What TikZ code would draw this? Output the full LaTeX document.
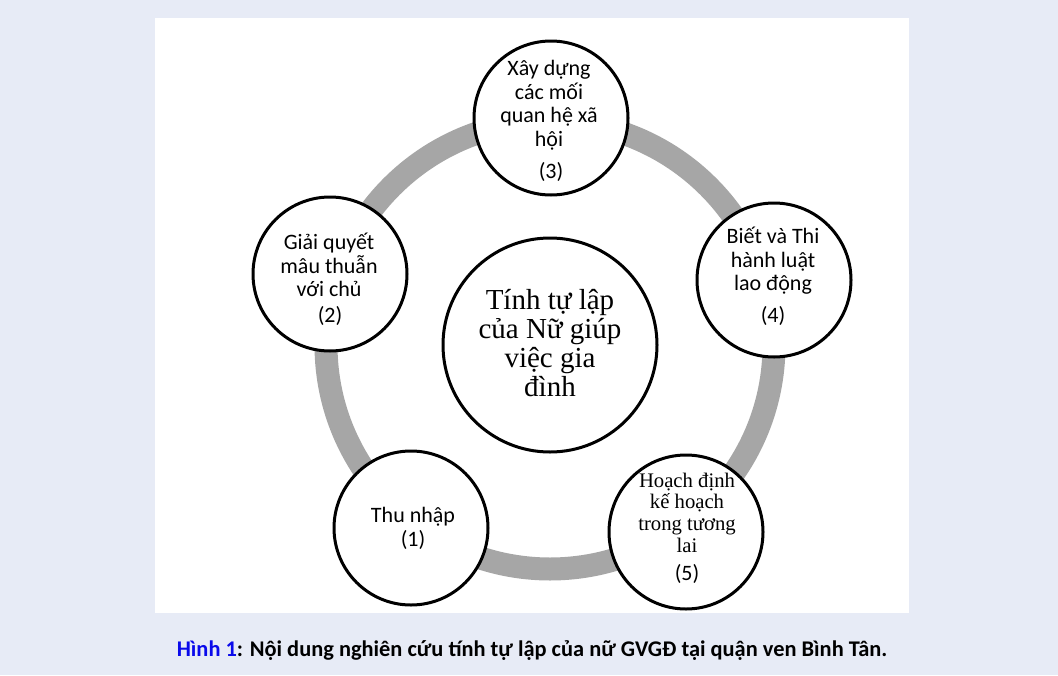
\documentclass[tikz,border=0pt]{standalone}
\usepackage{fontspec}
\setmainfont{Carlito}
\newfontfamily\tnr{Liberation Serif}
\definecolor{bg}{RGB}{231,235,246}
\definecolor{ringgray}{RGB}{166,166,166}
\definecolor{capblue}{RGB}{10,10,235}
\begin{document}
\begin{tikzpicture}[x=1pt,y=-1pt,
  bub/.style={circle,draw=black,line width=3pt,fill=white,minimum size=154pt,inner sep=0pt},
  txt/.style={align=center,inner sep=0pt,font=\fontsize{22}{23.5}\selectfont},
  serif/.style={align=center,inner sep=0pt,font=\tnr\fontsize{20.7}{21.7}\selectfont},
  bigserif/.style={align=center,inner sep=0pt,font=\tnr\fontsize{29}{29}\selectfont},
]
\fill[bg] (0,0) rectangle (1058,675);
\fill[white] (155,18) rectangle (909,613);
\useasboundingbox (0,0) rectangle (1058,675);
\draw[ringgray, line width=23pt] (550,345) circle[radius=224];

\node[bub, minimum size=214pt] (c0) at (550,345) {};
\node[bigserif] (t0) at (550,343.5) {Tính tự lập\\của Nữ giúp\\việc gia\\đình};

\node[bub] (c3) at (551,118) {};
\node[txt] (t3) at (549,105) {Xây dựng\\các mối\\quan hệ xã\\hội};
\node[txt] (n3) at (551,172) {(3)};

\node[bub] (c2) at (330,274) {};
\node[txt] (t2) at (329,265) {Giải quyết\\mâu thuẫn\\với chủ};
\node[txt] (n2) at (330,316) {(2)};

\node[bub] (c4) at (774,280) {};
\node[txt] (t4) at (773,261) {Biết và Thi\\hành luật\\lao động};
\node[txt] (n4) at (773,316) {(4)};

\node[bub] (c1) at (411,528) {};
\node[txt] (t1) at (413,528.5) {Thu nhập\\(1)};

\node[bub] (c5) at (686,532) {};
\node[serif] (t5) at (687,512.5) {Hoạch định\\kế hoạch\\trong tương\\lai};
\node[txt] (n5) at (687,574) {(5)};

\node[inner sep=0pt,font=\bfseries\fontsize{22.4}{26}\selectfont] (cap) at (532,651)
  {\textcolor{capblue}{Hình 1}: Nội dung nghiên cứu tính tự lập của nữ GVGĐ tại quận ven Bình Tân.};
\end{tikzpicture}
\end{document}
